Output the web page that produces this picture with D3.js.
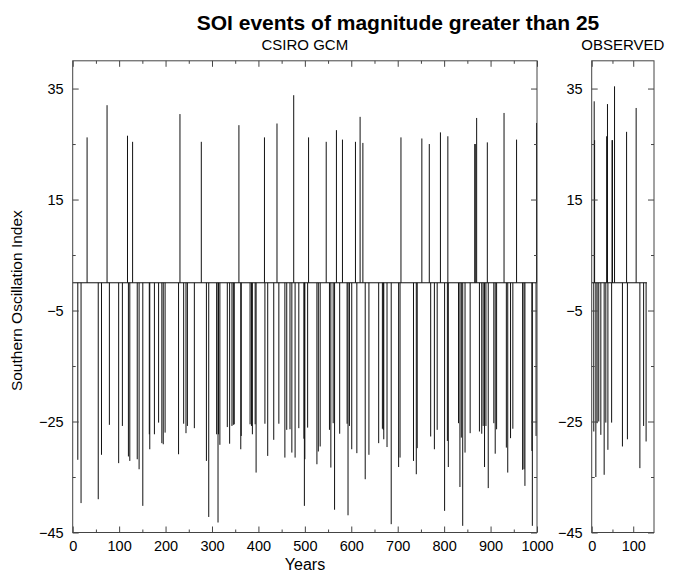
<!DOCTYPE html>
<html><head><meta charset="utf-8">
<script src="https://cdn.jsdelivr.net/npm/d3@7"></script>
<style>
body{margin:0;background:#fff}
text{font-family:"Liberation Sans",Arial,Helvetica,sans-serif;fill:#000}
</style>
</head><body>
<svg id="chart" width="678" height="573"></svg>
<script>
// ---- data ----
const gcmYears = [31,74,118,129,231,277,358,413,440,476,508,546,568,581,609,619,625,707,752,768,792,808,866,867,870,893,929,956,999,
 11,18,55,62,79,99,107,120,123,139,143,151,165,166,176,185,192,195,199,228,239,244,247,262,288,293,310,313,314,317,333,338,343,346,348,362,363,382,385,387,393,395,414,420,433,444,457,461,468,472,479,487,498,499,500,506,526,529,533,553,556,561,564,575,591,593,596,601,612,630,638,659,667,669,670,677,686,702,705,734,740,742,771,779,785,801,807,809,831,834,837,840,845,856,876,881,884,887,890,895,907,910,913,934,937,943,948,969,972,974,989,990,998];
const gcmValues = [26.2,32.0,26.5,25.4,30.4,25.4,28.4,26.2,28.7,33.8,26.2,25.4,27.5,25.8,25.4,29.9,25.2,26.2,26.0,25.0,27.1,26.4,25.0,25.0,29.7,25.3,30.6,25.8,28.8,
 -31.9,-39.7,-39.0,-31.0,-25.6,-32.5,-25.8,-31.3,-32.1,-31.8,-33.6,-40.2,-27.3,-30.0,-27.3,-25.2,-28.9,-29.1,-27.0,-30.9,-25.4,-27.1,-25.8,-26.2,-32.1,-42.2,-27.3,-43.2,-27.3,-29.2,-26.0,-29.0,-25.8,-25.6,-25.5,-30.0,-27.6,-25.5,-25.8,-27.3,-25.5,-34.2,-25.4,-31.2,-28.3,-25.4,-31.5,-26.5,-26.4,-30.6,-31.5,-26.2,-28.1,-40.2,-31.8,-26.1,-32.7,-30.4,-29.5,-26.5,-33.3,-25.3,-40.9,-27.2,-25.4,-41.9,-25.8,-30.0,-30.7,-35.4,-31.0,-28.9,-26.3,-26.5,-28.2,-29.6,-43.5,-33.2,-31.5,-32.1,-34.5,-29.8,-27.7,-30.0,-26.5,-41.1,-28.5,-33.2,-25.3,-36.8,-27.9,-43.8,-30.6,-27.1,-26.8,-27.2,-25.8,-33.2,-25.8,-37.0,-25.3,-30.8,-26.4,-29.7,-34.2,-28.0,-26.3,-33.7,-33.6,-36.6,-30.3,-43.8,-27.6];
const obsYears = [6,7,36,38,49,50,55,84,107, 5,10,13,17,22,30,34,39,48,74,86,116,125,131];
const obsValues = [32.7,25.7,26.4,32.2,25.7,25.7,35.4,27.2,31.5, -26.8,-35.0,-25.3,-25.0,-27.4,-34.6,-25.2,-30.1,-25.2,-29.5,-28.2,-33.4,-25.8,-28.6];
const gcmBaselineEnd = 1000, obsBaselineEnd = 133;
const yLabelTicks = [35,15,-5,-25,-45];
const yMinorTicks = [25,5,-15,-35];
const gcmXLabelTicks = [0,100,200,300,400,500,600,700,800,900,1000];
const gcmXMinorTicks = [50,150,250,350,450,550,650,750,850,950];
const obsXLabelTicks = [0,100];
const obsXMinorTicks = [50];

const svg = d3.select("#chart");
const yTop = 60.8, yBottom = 532.5;
const y = d3.scaleLinear().domain([-45,40]).range([yBottom, yTop]);
const xG = d3.scaleLinear().domain([0,1000]).range([72.7,537]);
const xO = d3.scaleLinear().domain([0,150]).range([591.7,654]);
const fmt = d3.format("d");

function panel(x, years, values, baseEnd, labTicks, minTicks, title) {
  const g = svg.append("g");
  const [x0,x1] = x.range();
  g.append("line").attr("x1", x(0)).attr("x2", x(baseEnd)).attr("y1", y(0)).attr("y2", y(0))
    .attr("stroke","#111").attr("stroke-width",1);
  g.selectAll("line.bar").data(years.map((d,i)=>[d,values[i]])).join("line").attr("class","bar")
    .attr("x1", d=>x(d[0])).attr("x2", d=>x(d[0]))
    .attr("y1", y(0)).attr("y2", d=>y(d[1]))
    .attr("stroke","#111").attr("stroke-width",1);
  const style = s => { s.select(".domain").remove(); s.selectAll("line").attr("stroke","#444");
     s.selectAll("text").attr("font-size","14.5px").attr("font-family",'"Liberation Sans",Arial,sans-serif').attr("fill","#000"); };
  g.append("g").attr("transform",`translate(${x0},0)`)
    .call(d3.axisLeft(y).tickValues(yLabelTicks).tickFormat(fmt).tickSizeInner(-6).tickSizeOuter(0).tickPadding(9)).call(style);
  g.append("g").attr("transform",`translate(${x0},0)`)
    .call(d3.axisLeft(y).tickValues(yMinorTicks).tickSizeInner(-3).tickSizeOuter(0).tickFormat("")).call(style);
  g.append("g").attr("transform",`translate(${x1},0)`)
    .call(d3.axisRight(y).tickValues(yLabelTicks).tickSizeInner(-6).tickSizeOuter(0).tickFormat("")).call(style);
  g.append("g").attr("transform",`translate(${x1},0)`)
    .call(d3.axisRight(y).tickValues(yMinorTicks).tickSizeInner(-3).tickSizeOuter(0).tickFormat("")).call(style);
  g.append("g").attr("transform",`translate(0,${yBottom})`)
    .call(d3.axisBottom(x).tickValues(labTicks).tickFormat(fmt).tickSizeInner(-6).tickSizeOuter(0).tickPadding(8)).call(style);
  g.append("g").attr("transform",`translate(0,${yBottom})`)
    .call(d3.axisBottom(x).tickValues(minTicks).tickSizeInner(-3).tickSizeOuter(0).tickFormat("")).call(style);
  g.append("g").attr("transform",`translate(0,${yTop})`)
    .call(d3.axisTop(x).tickValues(labTicks).tickSizeInner(-6).tickSizeOuter(0).tickFormat("")).call(style);
  g.append("g").attr("transform",`translate(0,${yTop})`)
    .call(d3.axisTop(x).tickValues(minTicks).tickSizeInner(-3).tickSizeOuter(0).tickFormat("")).call(style);
  g.append("rect").attr("x",x0).attr("y",yTop).attr("width",x1-x0).attr("height",yBottom-yTop)
    .attr("fill","none").attr("stroke","#444").attr("stroke-width",1);
  svg.append("text").attr("x",(x0+x1)/2).attr("y",50).attr("text-anchor","middle")
    .attr("font-size","15px").text(title);
}

panel(xG, gcmYears, gcmValues, gcmBaselineEnd, gcmXLabelTicks, gcmXMinorTicks, "CSIRO GCM");
panel(xO, obsYears, obsValues, obsBaselineEnd, obsXLabelTicks, obsXMinorTicks, "OBSERVED");

svg.append("text").attr("x",398).attr("y",30).attr("text-anchor","middle")
  .attr("font-size","21px").attr("font-weight","bold").text("SOI events of magnitude greater than 25");
svg.append("text").attr("x",305).attr("y",570).attr("text-anchor","middle")
  .attr("font-size","16px").text("Years");
svg.append("text").attr("transform",`translate(22,${(yTop+yBottom)/2+4}) rotate(-90)`).attr("text-anchor","middle")
  .attr("font-size","15.5px").text("Southern Oscillation Index");
</script>
</body></html>
